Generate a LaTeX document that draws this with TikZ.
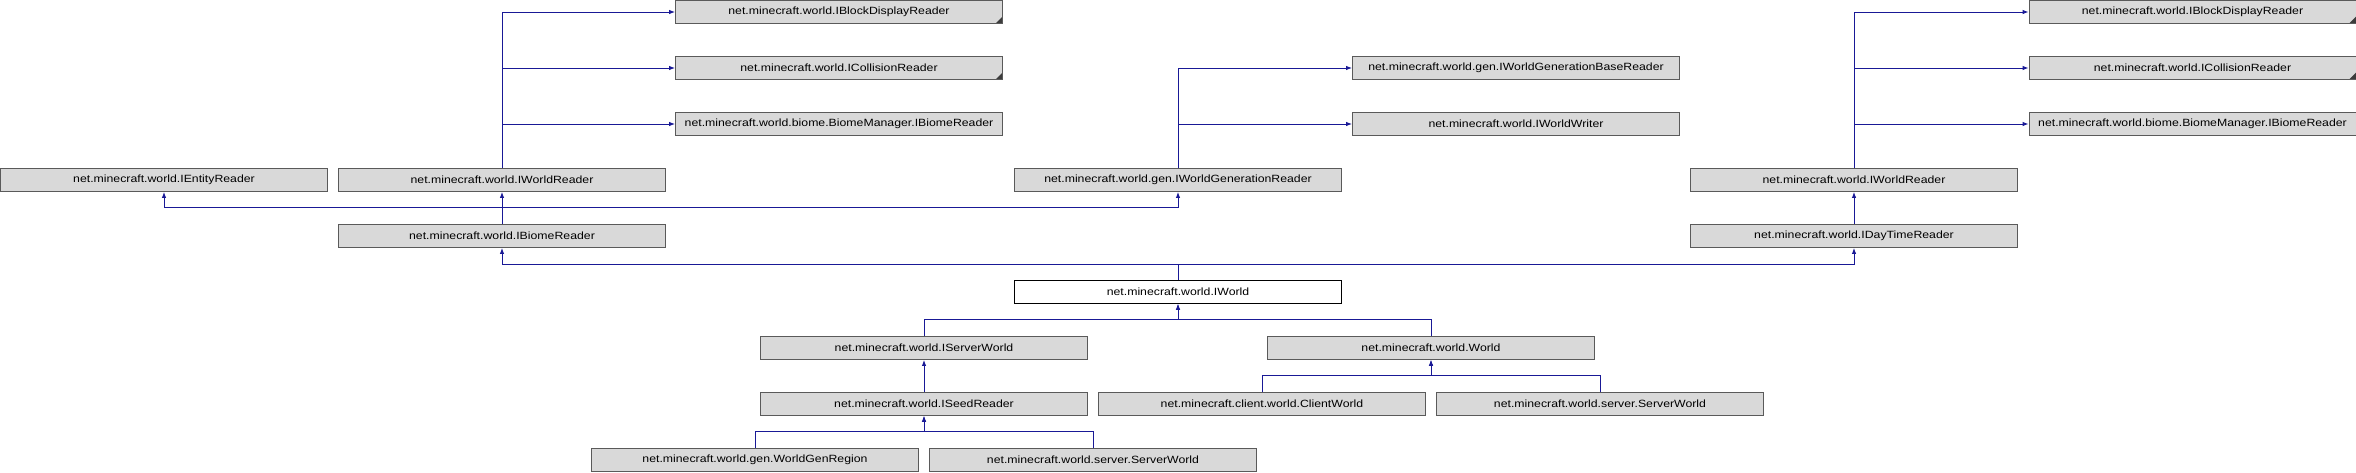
\documentclass[tikz,border=0pt]{standalone}
\usepackage{fontspec}
\setmainfont{Liberation Sans}[FakeStretch=1.17]
\usetikzlibrary{arrows.meta}
\definecolor{edgeblue}{RGB}{25, 25, 150}
\definecolor{boxgrey}{RGB}{217, 217, 217}
\definecolor{linegrey}{RGB}{90, 90, 90}
\definecolor{cornergrey}{RGB}{60, 60, 60}
\tikzset{
  box/.style={draw=linegrey, fill=boxgrey, line width=0.9pt, minimum width=327pt,
    minimum height=23pt, inner sep=0pt, font=\fontsize{10.5}{12}\selectfont},
  mainbox/.style={box, draw=black, fill=white},
  folded/.style={path picture={\fill[cornergrey] (path picture bounding box.south east)
    -- ++(-7pt,0pt) -- ++(7pt,7pt) -- cycle;}},
  edge/.style={draw=edgeblue, line width=0.9pt, ->},
  >={Latex[length=6pt,width=4.5pt]}
}

\begin{document}
\begin{tikzpicture}[x=1pt,y=-1pt]
\useasboundingbox (0,0) rectangle (2356,472);

% Left reader branch
\node[box,folded] (bdrL) at (839,12) {net.minecraft.world.IBlockDisplayReader};
\node[box,folded] (colL) at (839,68) {net.minecraft.world.ICollisionReader};
\node[box] (bmL) at (839,124) {net.minecraft.world.biome.BiomeManager.IBiomeReader};
\node[box] (ent) at (164,180) {net.minecraft.world.IEntityReader};
\node[box] (wrL) at (502,180) {net.minecraft.world.IWorldReader};
\node[box] (bio) at (502,236) {net.minecraft.world.IBiomeReader};

% Generation branch
\node[box] (wgbr) at (1516,68) {net.minecraft.world.gen.IWorldGenerationBaseReader};
\node[box] (wwr) at (1516,124) {net.minecraft.world.IWorldWriter};
\node[box] (wgr) at (1178,180) {net.minecraft.world.gen.IWorldGenerationReader};

% Right reader branch
\node[box,folded] (bdrR) at (2192.5,12) {net.minecraft.world.IBlockDisplayReader};
\node[box,folded] (colR) at (2192.5,68) {net.minecraft.world.ICollisionReader};
\node[box] (bmR) at (2192.5,124) {net.minecraft.world.biome.BiomeManager.IBiomeReader};
\node[box] (wrR) at (1854,180) {net.minecraft.world.IWorldReader};
\node[box] (dtr) at (1854,236) {net.minecraft.world.IDayTimeReader};

% IWorld and its subclasses
\node[mainbox] (iw) at (1178,292) {net.minecraft.world.IWorld};
\node[box] (sw) at (924,348) {net.minecraft.world.IServerWorld};
\node[box] (wd) at (1431,348) {net.minecraft.world.World};
\node[box] (seed) at (924,404) {net.minecraft.world.ISeedReader};
\node[box] (cw) at (1262,404) {net.minecraft.client.world.ClientWorld};
\node[box] (svR) at (1600,404) {net.minecraft.world.server.ServerWorld};
\node[box] (wgen) at (755,460) {net.minecraft.world.gen.WorldGenRegion};
\node[box] (svL) at (1093,460) {net.minecraft.world.server.ServerWorld};

% Inheritance edges, upper part
\draw[edge] (wrL.north) |- (bdrL.west);
\draw[edge] (wrL.north) |- (colL.west);
\draw[edge] (wrL.north) |- (bmL.west);
\draw[edge] (wgr.north) |- (wgbr.west);
\draw[edge] (wgr.north) |- (wwr.west);
\draw[edge] (wrR.north) |- (bdrR.west);
\draw[edge] (wrR.north) |- (colR.west);
\draw[edge] (wrR.north) |- (bmR.west);
\draw[edge] (bio.north) -- (wrL.south);
\draw[edge] (bio.north) -- ++(0,-17) -| (ent.south);
\draw[edge] (bio.north) -- ++(0,-17) -| (wgr.south);
\draw[edge] (dtr.north) -- (wrR.south);

% Inheritance edges, lower part
\draw[edge] (iw.north) -- ++(0,-16) -| (bio.south);
\draw[edge] (iw.north) -- ++(0,-16) -| (dtr.south);
\draw[edge] (sw.north) -- ++(0,-17) -| (iw.south);
\draw[edge] (wd.north) -- ++(0,-17) -| (iw.south);
\draw[edge] (seed.north) -- (sw.south);
\draw[edge] (cw.north) -- ++(0,-17) -| (wd.south);
\draw[edge] (svR.north) -- ++(0,-17) -| (wd.south);
\draw[edge] (wgen.north) -- ++(0,-17) -| (seed.south);
\draw[edge] (svL.north) -- ++(0,-17) -| (seed.south);
\end{tikzpicture}
\end{document}
